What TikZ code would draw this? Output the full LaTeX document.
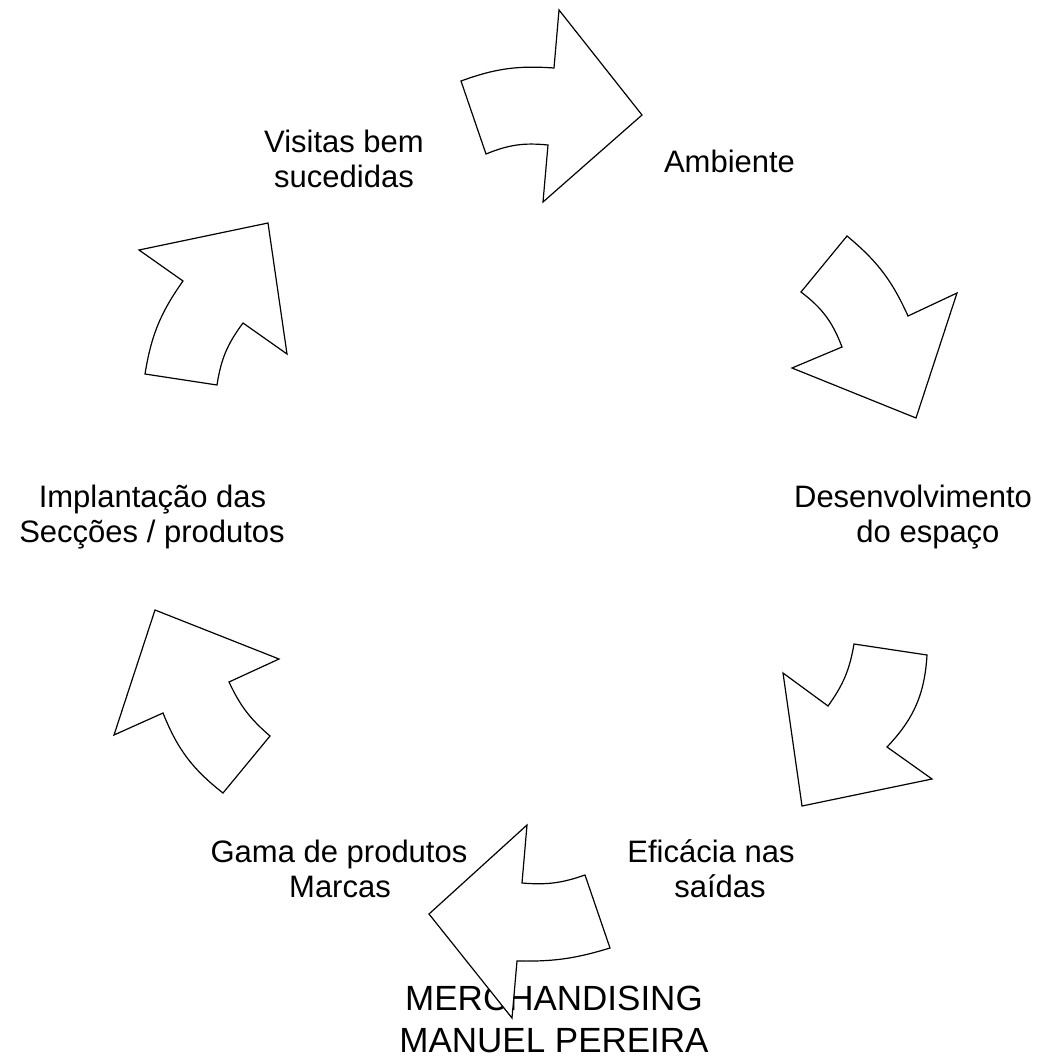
\documentclass[tikz,border=0pt]{standalone}
\usepackage{fontspec}
\setmainfont{Liberation Sans}
\tikzset{
  arrowshape/.style={draw=black, fill=white, line width=1.2pt, line join=miter},
  lbl/.style={font=\fontsize{31}{35.5}\selectfont, inner sep=0pt, anchor=base},
  titletext/.style={font=\fontsize{35}{42.7}\selectfont, inner sep=0pt, anchor=base},
}
\begin{document}
\begin{tikzpicture}[x=1pt,y=1pt]
\useasboundingbox (0,0) rectangle (1044,-1060);

% labels
\node[lbl] (visitas1) at (344,-152) {Visitas bem};
\node[lbl] (visitas2) at (344,-187.5) {sucedidas};
\node[lbl] (ambiente) at (729.5,-172) {Ambiente};
\node[lbl] (desenv1) at (913,-507) {Desenvolvimento};
\node[lbl] (desenv2) at (928,-542.5) {do espaço};
\node[lbl] (efic1) at (711,-862) {Eficácia nas};
\node[lbl] (efic2) at (720,-897.5) {saídas};
\node[lbl] (gama1) at (339,-862) {Gama de produtos};
\node[lbl] (gama2) at (340,-897.5) {Marcas};
\node[lbl] (impl1) at (152.5,-507) {Implantação das};
\node[lbl] (impl2) at (152,-542.5) {Secções / produtos};
\node[titletext] (merch) at (554,-1010) {MERCHANDISING};
\node[titletext] (manuel) at (554,-1052.7) {MANUEL PEREIRA};

% arrow 1 (top)
\coordinate (a1) at (461,-81);
\coordinate (a2) at (554,-68);
\coordinate (a3) at (559,-10);
\coordinate (a4) at (642,-115);
\coordinate (a5) at (543,-202);
\coordinate (a6) at (548,-145);
\coordinate (a7) at (486,-154);
\draw[arrowshape] (a1) to[bend left=12] (a2) -- (a3) -- (a4) -- (a5) -- (a6) to[bend right=14] (a7) -- cycle;

% arrow 2 (upper right)
\coordinate (b1) at (847,-236);
\coordinate (b2) at (908,-316);
\coordinate (b3) at (957,-293);
\coordinate (b4) at (916,-418);
\coordinate (b5) at (792,-368);
\coordinate (b6) at (842,-347);
\coordinate (b7) at (801,-292);
\draw[arrowshape] (b1) to[bend left=13] (b2) -- (b3) -- (b4) -- (b5) -- (b6) to[bend right=16] (b7) -- cycle;

% arrow 3 (lower right)
\coordinate (c1) at (854,-644);
\coordinate (c2) at (927,-655);
\coordinate (c3) at (887,-747);
\coordinate (c4) at (932,-779);
\coordinate (c5) at (802,-806);
\coordinate (c6) at (783,-673);
\coordinate (c7) at (828,-706);
\draw[arrowshape] (c7) to[bend right=13] (c1) -- (c2) to[bend left=20] (c3) -- (c4) -- (c5) -- (c6) -- cycle;

% arrow 4 (bottom)
\coordinate (d1) at (527,-825);
\coordinate (d2) at (522,-883);
\coordinate (d3) at (585,-875);
\coordinate (d4) at (610,-948);
\coordinate (d5) at (517,-961);
\coordinate (d6) at (512,-1018);
\coordinate (d7) at (429,-914);
\draw[arrowshape] (d1) -- (d2) to[bend right=12] (d3) -- (d4) to[bend left=9] (d5) -- (d6) -- (d7) -- cycle;

% arrow 5 (lower left)
\coordinate (e1) at (223,-793);
\coordinate (e2) at (270,-736);
\coordinate (e3) at (229,-682);
\coordinate (e4) at (279,-659);
\coordinate (e5) at (155,-610);
\coordinate (e6) at (114,-735);
\coordinate (e7) at (163,-713);
\draw[arrowshape] (e7) to[bend right=15] (e1) -- (e2) to[bend left=12] (e3) -- (e4) -- (e5) -- (e6) -- cycle;

% arrow 6 (upper left)
\coordinate (f1) at (145,-374);
\coordinate (f2) at (217,-385);
\coordinate (f3) at (243,-323);
\coordinate (f4) at (287,-354);
\coordinate (f5) at (268,-223);
\coordinate (f6) at (139,-250);
\coordinate (f7) at (183,-281);
\draw[arrowshape] (f7) to[bend right=13] (f1) -- (f2) to[bend left=14] (f3) -- (f4) -- (f5) -- (f6) -- cycle;
\end{tikzpicture}
\end{document}
